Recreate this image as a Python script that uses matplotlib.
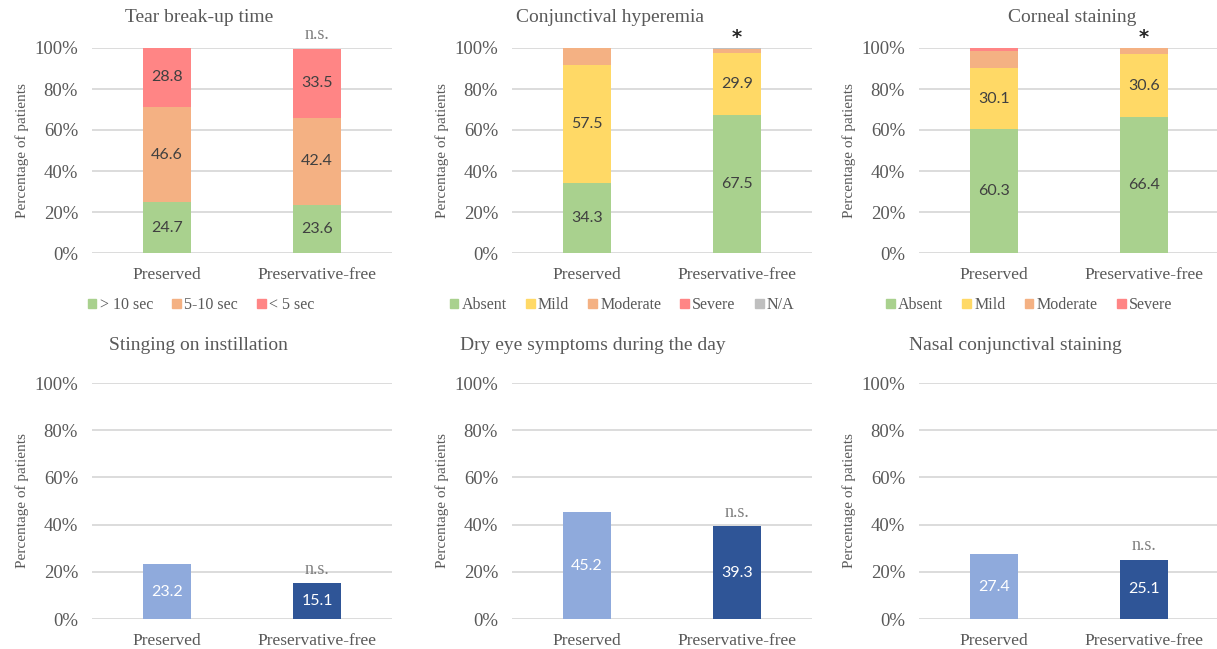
import matplotlib.pyplot as plt
from matplotlib.patches import Patch

# categories
groups = ["Preserved", "Preservative-free"]

# stacked panels (percent of patients)
tbut_labels = ["> 10 sec", "5-10 sec", "< 5 sec"]
tbut_values = [[24.7, 23.6], [46.6, 42.4], [28.8, 33.5]]

hyper_labels = ["Absent", "Mild", "Moderate", "Severe", "N/A"]
hyper_values = [[34.3, 67.5], [57.5, 29.9], [8.2, 2.3], [0.0, 0.0], [0.0, 0.3]]

cornea_labels = ["Absent", "Mild", "Moderate", "Severe"]
cornea_values = [[60.3, 66.4], [30.1, 30.6], [8.2, 3.0], [1.4, 0.0]]

# simple panels
sting_values = [23.2, 15.1]
dryeye_values = [45.2, 39.3]
nasal_values = [27.4, 25.1]

GREEN = "#A9D18E"
YELLOW = "#FFD966"
ORANGE = "#F4B183"
RED = "#FF8585"
GRAY = "#BFBFBF"
LIGHT_BLUE = "#8FAADC"
DARK_BLUE = "#2F5597"
TXT = "#595959"

SERIF = "Liberation Serif"
SANS = "Lato"

W, H = 1217, 649
fig = plt.figure(figsize=(W / 100, H / 100), dpi=100)


def make_ax(left_px, top_px, bottom_px):
    ax = fig.add_axes([left_px / W, 1 - bottom_px / H, 300 / W, (bottom_px - top_px) / H])
    ax.set_xlim(-0.5, 1.5)
    ax.set_ylim(0, 100)
    ax.set_yticks(range(0, 101, 20))
    ax.set_yticklabels([f"{t}%" for t in range(0, 101, 20)])
    ax.set_xticks([0, 1])
    ax.set_xticklabels(groups)
    for s in ax.spines.values():
        s.set_visible(False)
    ax.yaxis.grid(True, color="#D9D9D9", linewidth=1.3)
    ax.set_axisbelow(True)
    ax.tick_params(length=0)
    ax.tick_params(axis="y", labelsize=13.5, labelcolor=TXT, pad=10)
    ax.tick_params(axis="x", labelsize=12.5, labelcolor=TXT, pad=10)
    for lab in ax.get_xticklabels() + ax.get_yticklabels():
        lab.set_fontfamily(SERIF)
    ax.set_ylabel("Percentage of patients", fontsize=11, color=TXT, family=SERIF, labelpad=4)
    return ax


def px_to_axes(ax, x_px):
    left = ax.get_position().x0 * W
    return (x_px - left) / 300


def set_title(ax, title, x_px, y_px):
    fig.text(x_px / W, 1 - y_px / H, title, ha="center", va="center", fontsize=14,
             color=TXT, family=SERIF)


def stacked(ax, values, colors, mark, names, legend_x_px):
    bottom = [0, 0]
    for vals, col in zip(values, colors):
        ax.bar([0, 1], vals, width=0.315, bottom=bottom, color=col)
        for i, v in enumerate(vals):
            if v >= 10:
                ax.text(i, bottom[i] + v / 2, f"{v:.1f}", ha="center", va="center",
                        fontsize=11.5, color="#404040", family=SANS)
        bottom = [b + v for b, v in zip(bottom, vals)]
    if mark == "*":
        ax.text(1, 105, "*", ha="center", va="center", fontsize=14, fontweight="bold",
                color="#262626", family="DejaVu Sans", clip_on=False)
    else:
        ax.text(1, 106.5, mark, ha="center", va="center", fontsize=13, color="#7F7F7F",
                family=SERIF, clip_on=False)
    handles = [Patch(color=c, label=n) for c, n in zip(colors, names)]
    ax.legend(handles=handles, loc="center", bbox_to_anchor=(px_to_axes(ax, legend_x_px), -0.255),
              ncol=len(names), frameon=False, handlelength=0.55, handleheight=0.55,
              handletextpad=0.2, columnspacing=1.2, prop={"family": SERIF, "size": 11.5},
              labelcolor=TXT)


def simple(ax, values):
    cols = [LIGHT_BLUE, DARK_BLUE]
    ax.bar([0, 1], values, width=0.315, color=cols)
    for i, v in enumerate(values):
        ax.text(i, v / 2, f"{v:.1f}", ha="center", va="center", fontsize=11.5,
                color="white", family=SANS)
    ax.text(1, values[1] + 6, "n.s.", ha="center", va="center", fontsize=13,
            color="#7F7F7F", family=SERIF)


lefts = [92, 512, 919]

ax1 = make_ax(lefts[0], 48, 253)
stacked(ax1, tbut_values, [GREEN, ORANGE, RED], "n.s.", tbut_labels, 201)
set_title(ax1, "Tear break-up time", 199, 17)
ax2 = make_ax(lefts[1], 48, 253)
stacked(ax2, hyper_values, [GREEN, YELLOW, ORANGE, RED, GRAY], "*", hyper_labels, 622)
set_title(ax2, "Conjunctival hyperemia", 610, 17)
ax3 = make_ax(lefts[2], 48, 253)
stacked(ax3, cornea_values, [GREEN, YELLOW, ORANGE, RED], "*", cornea_labels, 1029)
set_title(ax3, "Corneal staining", 1072, 17)

ax4 = make_ax(lefts[0], 383, 619)
simple(ax4, sting_values)
set_title(ax4, "Stinging on instillation", 198, 345)
ax5 = make_ax(lefts[1], 383, 619)
simple(ax5, dryeye_values)
set_title(ax5, "Dry eye symptoms during the day", 593, 345)
ax6 = make_ax(lefts[2], 383, 619)
simple(ax6, nasal_values)
set_title(ax6, "Nasal conjunctival staining", 1015, 345)

fig.savefig("out.png", dpi=100, facecolor="white")
